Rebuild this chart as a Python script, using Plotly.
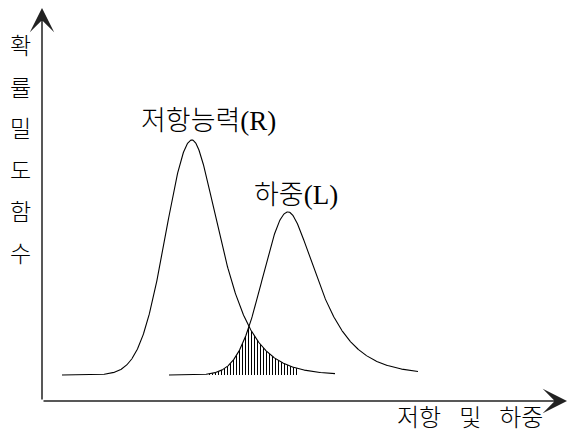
import numpy as np
import plotly.graph_objects as go

# Distribution parameters (x in resistance/load units, y as relative density)
curve_names = ["저항능력(R)", "하중(L)"]
modes = [150, 246]            # location of the peak
peaks = [1.0, 0.694]          # peak height
sigma_left = [26, 25]         # spread on the lower side
sigma_right = [22, 22]        # spread on the upper side near the peak
tail_stretch = [55, 45]       # how quickly the upper tail widens
x_spans = [(20, 293), (127, 376)]

y_axis_chars = ["확", "률", "밀", "도", "함", "수"]
x_axis_title = "저항\u2002 및\u2002 하중"

X_RANGE = [-42, 526]
Y_RANGE = [-0.2596, 1.5957]
AXIS_Y = -0.1106
FONT = "Liberation Serif, Noto Sans CJK KR"


def density(x, i):
    d = x - modes[i]
    g = np.where(
        d < 0,
        d / sigma_left[i],
        tail_stretch[i] * np.log1p(np.maximum(d, 0) / tail_stretch[i]) / sigma_right[i],
    )
    return peaks[i] * np.exp(-0.5 * g ** 2)


fig = go.Figure()

# the two density curves
for i in range(2):
    xs = np.linspace(x_spans[i][0], x_spans[i][1], 600)
    fig.add_trace(go.Scatter(x=xs, y=density(xs, i), mode="lines",
                             line=dict(color="black", width=1.1),
                             hoverinfo="skip", showlegend=False))

# vertical hatching of the overlap (failure) region
hx, hy = [], []
for xv in np.arange(167.5, 255, 3.0):
    top = min(density(np.array([xv]), 0)[0], density(np.array([xv]), 1)[0])
    if top > 0.004:
        hx += [xv, xv, None]
        hy += [0, top, None]
fig.add_trace(go.Scatter(x=hx, y=hy, mode="lines",
                         line=dict(color="black", width=1),
                         hoverinfo="skip", showlegend=False))

annotations = []
# axes with arrowheads
for (hx_, hy_) in [(0, 1.562), (525, AXIS_Y)]:
    annotations.append(dict(x=hx_, y=hy_, ax=0, ay=AXIS_Y, xref="x", yref="y",
                            axref="x", ayref="y", text="", showarrow=True,
                            arrowhead=3, arrowsize=2.7, arrowwidth=1.5,
                            arrowcolor="#222", standoff=0))

# curve labels
annotations.append(dict(x=166, y=1.081, xref="x", yref="y", text=curve_names[0],
                        showarrow=False,
                        font=dict(size=27, color="black", family=FONT, weight=300)))
annotations.append(dict(x=254, y=0.766, xref="x", yref="y", text=curve_names[1],
                        showarrow=False,
                        font=dict(size=27, color="black", family=FONT, weight=300)))

# axis titles
annotations.append(dict(x=428, y=-0.183, xref="x", yref="y", text=x_axis_title,
                        showarrow=False,
                        font=dict(size=24, color="black", family=FONT, weight=300)))
for k, ch in enumerate(y_axis_chars):
    py = 47 + k * 41.5
    annotations.append(dict(x=-22, y=(375 - py) / 235, xref="x", yref="y", text=ch,
                            showarrow=False,
                            font=dict(size=23, color="black", family=FONT, weight=300)))

fig.update_layout(
    width=568, height=436,
    margin=dict(l=0, r=0, t=0, b=0),
    paper_bgcolor="white", plot_bgcolor="white",
    xaxis=dict(range=X_RANGE, visible=False, fixedrange=True),
    yaxis=dict(range=Y_RANGE, visible=False, fixedrange=True),
    annotations=annotations,
    showlegend=False,
)

fig.write_html("out.html", config={"displayModeBar": False})
